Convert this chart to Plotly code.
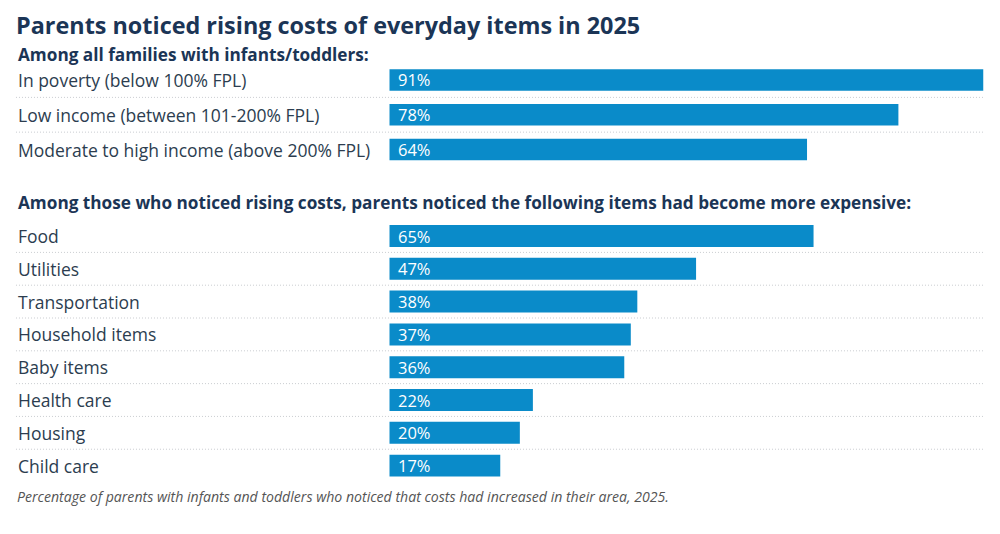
import plotly.graph_objects as go

# data
income_groups = [
    "In poverty (below 100% FPL)",
    "Low income (between 101-200% FPL)",
    "Moderate to high income (above 200% FPL)",
]
income_pct = [91, 78, 64]

items = [
    "Food",
    "Utilities",
    "Transportation",
    "Household items",
    "Baby items",
    "Health care",
    "Housing",
    "Child care",
]
items_pct = [65, 47, 38, 37, 36, 22, 20, 17]

title_text = "Parents noticed rising costs of everyday items in 2025"
sub1_text = "Among all families with infants/toddlers:"
sub2_text = ("Among those who noticed rising costs, parents noticed the following "
             "items had become more expensive:")
note_text = ("Percentage of parents with infants and toddlers who noticed that "
             "costs had increased in their area, 2025.")

BAR = "#0a8bc9"
NAVY = "#1b3556"
LABEL = "#2c3d4f"
FONT = "Open Sans"

fig = go.Figure()

fig.add_trace(go.Bar(
    x=income_pct, y=income_groups, orientation="h",
    marker=dict(color=BAR, line=dict(width=0)),
    width=0.62, xaxis="x", yaxis="y", hoverinfo="skip",
))
fig.add_trace(go.Bar(
    x=items_pct, y=items, orientation="h",
    marker=dict(color=BAR, line=dict(width=0)),
    width=0.67, xaxis="x", yaxis="y2", hoverinfo="skip",
))

annotations = []
shapes = []
for yref, cats, vals in (("y", income_groups, income_pct), ("y2", items, items_pct)):
    for i, (cat, v) in enumerate(zip(cats, vals)):
        # row label on the left
        annotations.append(dict(
            x=0.0081, xref="paper", y=cat, yref=yref, text=cat,
            xanchor="left", yanchor="middle", showarrow=False,
            font=dict(family=FONT, size=17.5, color=LABEL),
        ))
        # value inside the bar
        annotations.append(dict(
            x=0, xref="x", y=cat, yref=yref, text=f"{v}%",
            xanchor="left", yanchor="middle", xshift=7, showarrow=False,
            font=dict(family=FONT, size=16.5, color="white"),
        ))
        # dotted divider below each row except the last
        if i < len(cats) - 1:
            shapes.append(dict(
                type="line", xref="paper", yref=yref,
                x0=0.0081, x1=0.9919, y0=i + 0.5, y1=i + 0.5,
                line=dict(color="#c9ccd0", width=1, dash="1px,2px"),
            ))

annotations += [
    dict(x=0.007, y=1.0, xref="paper", yref="paper", text=f"<b>{title_text}</b>",
         xanchor="left", yanchor="top", showarrow=False, borderpad=0,
         font=dict(family=FONT, size=23.4, color=NAVY)),
    dict(x=0.0081, y=0.9093, xref="paper", yref="paper", text=f"<b>{sub1_text}</b>",
         xanchor="left", yanchor="middle", showarrow=False,
         font=dict(family=FONT, size=17.2, color=NAVY)),
    dict(x=0.0081, y=0.6236, xref="paper", yref="paper", text=f"<b>{sub2_text}</b>",
         xanchor="left", yanchor="middle", showarrow=False,
         font=dict(family=FONT, size=17.2, color=NAVY)),
    dict(x=0.007, y=0.0579, xref="paper", yref="paper", text=f"<i>{note_text}</i>",
         xanchor="left", yanchor="middle", showarrow=False,
         font=dict(family=FONT, size=14.1, color="#555555")),
]

axis_y = dict(autorange="reversed", showticklabels=False, showgrid=False,
              zeroline=False, showline=False, ticks="", fixedrange=True)

# page body has an 8px margin, so the figure is sized to fit inside it
fig.update_layout(
    width=984, height=518,
    margin=dict(l=0, r=0, t=0, b=0),
    paper_bgcolor="white", plot_bgcolor="white",
    showlegend=False,
    xaxis=dict(domain=[0.3875, 1.0], range=[0, 92.34], visible=False, fixedrange=True),
    yaxis=dict(domain=[0.6932, 0.8946], anchor="x", **axis_y),
    yaxis2=dict(domain=[0.0849, 0.5915], anchor="x", **axis_y),
    annotations=annotations,
    shapes=shapes,
)

fig.write_html("out.html")
